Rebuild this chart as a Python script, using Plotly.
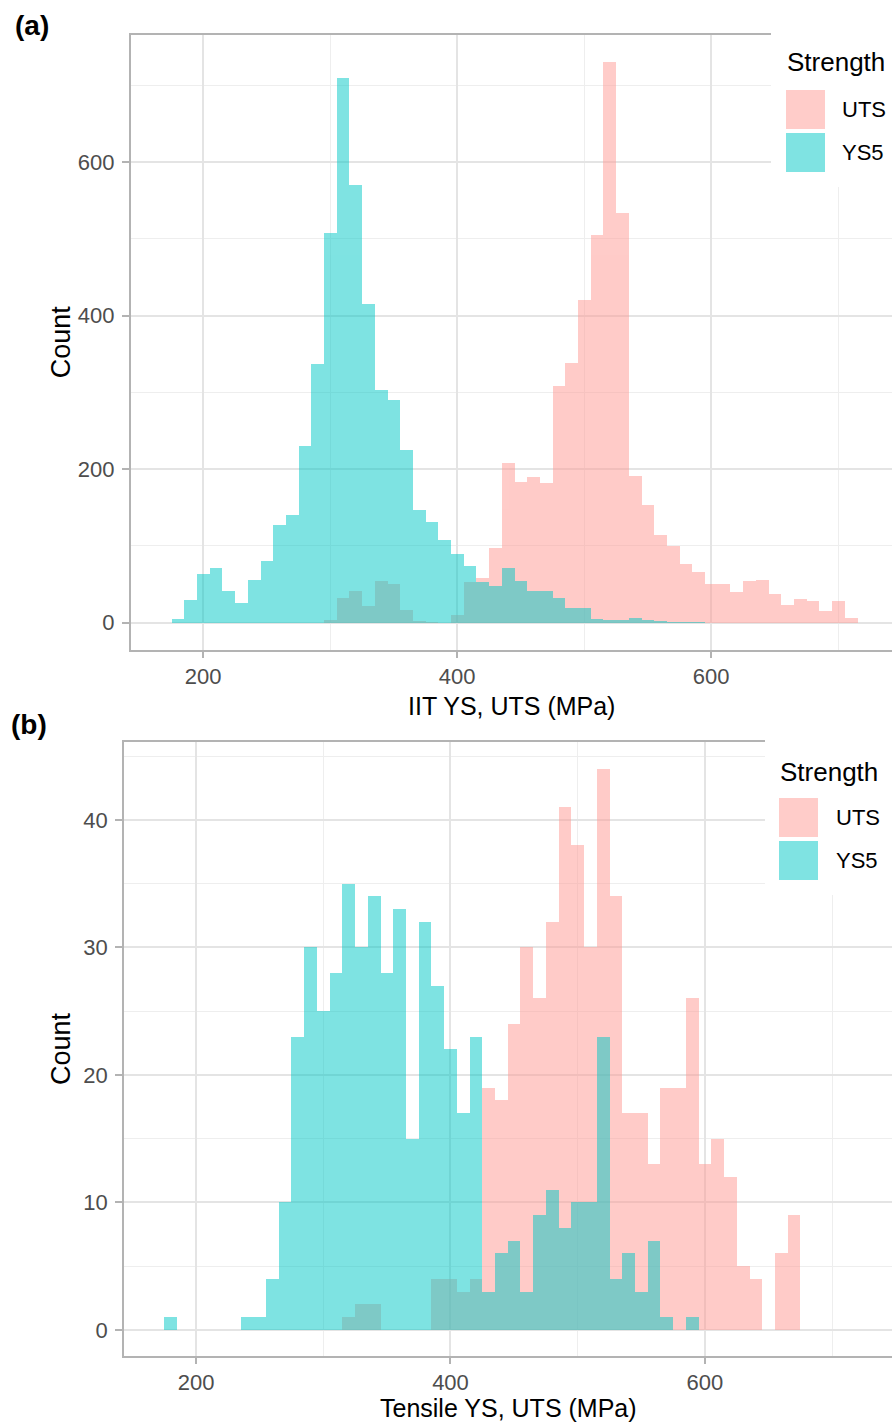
import plotly.graph_objects as go

# ---- data: histogram counts, 10 MPa bins (values are bin centres) ----
BIN_WIDTH = 10

# (a) instrumented indentation test (IIT)
iit_ys5_first = 180
iit_ys5_counts = [5, 30, 64, 72, 41, 26, 56, 81, 127, 141, 231, 337, 508, 710,
                  570, 415, 304, 291, 225, 147, 131, 108, 90, 74, 54, 48, 71,
                  55, 41, 41, 32, 20, 20, 5, 4, 4, 6, 4, 2, 1, 1, 1]
iit_uts_first = 300
iit_uts_counts = [4, 32, 42, 22, 55, 51, 17, 2, 1, 0, 10, 54, 59, 98, 208, 184,
                  190, 182, 309, 339, 421, 505, 730, 534, 192, 154, 115, 100,
                  77, 67, 51, 51, 40, 55, 56, 38, 24, 31, 28, 15, 29, 6]

# (b) tensile test
ten_ys5_first = 180
ten_ys5_counts = [1, 0, 0, 0, 0, 0, 1, 1, 4, 10, 23, 30, 25, 28, 35, 30, 34, 28,
                  33, 15, 32, 27, 22, 17, 23, 3, 6, 7, 3, 9, 11, 8, 10, 10, 23,
                  4, 6, 3, 7, 1, 0, 1]
ten_uts_first = 320
ten_uts_counts = [1, 2, 2, 0, 0, 0, 0, 4, 4, 3, 4, 19, 18, 24, 30, 26, 32, 41,
                  38, 30, 44, 34, 17, 17, 13, 19, 19, 26, 13, 15, 12, 5, 4, 0,
                  6, 9]

groups = ["UTS", "YS5"]
x_titles = ["IIT YS, UTS (MPa)", "Tensile YS, UTS (MPa)"]
x_ticks = [200, 400, 600]
x_minor = [100, 300, 500, 700]
y_ticks_a = [0, 200, 400, 600]
y_minor_a = [100, 300, 500, 700]
y_ticks_b = [0, 10, 20, 30, 40]
y_minor_b = [5, 15, 25, 35, 45]

# ---- style ----
W, H = 892, 1423
FONT = "Liberation Sans, Arial, sans-serif"
COLORS = {"UTS": "rgb(255,153,147)", "YS5": "rgb(0,200,198)"}
ALPHA = 0.5
BORDER = "#B3B3B3"
GRID = "#E4E4E4"
GRID_MINOR = "#EEEEEE"
TICK_TXT = "#4D4D4D"


def px_x(x):
    return x / W


def px_y(y):
    return 1 - y / H


def centres(first, counts):
    return [first + BIN_WIDTH * i for i in range(len(counts))]


fig = go.Figure()

series = [
    ("x", "y", "UTS", iit_uts_first, iit_uts_counts),
    ("x", "y", "YS5", iit_ys5_first, iit_ys5_counts),
    ("x2", "y2", "UTS", ten_uts_first, ten_uts_counts),
    ("x2", "y2", "YS5", ten_ys5_first, ten_ys5_counts),
]
for xa, ya, name, first, counts in series:
    fig.add_trace(go.Bar(
        x=centres(first, counts), y=counts, width=BIN_WIDTH,
        xaxis=xa, yaxis=ya, name=name, showlegend=False,
        marker=dict(color=COLORS[name], line=dict(width=0)),
        opacity=ALPHA,
    ))


def x_axis(domain, rng, anchor):
    return dict(
        domain=domain, range=rng, anchor=anchor,
        tickmode="array", tickvals=x_ticks,
        showgrid=True, gridcolor=GRID, gridwidth=1.5,
        minor=dict(tickmode="array", tickvals=x_minor, showgrid=True,
                   gridcolor=GRID_MINOR, gridwidth=1.2, ticks=""),
        showline=True, linecolor=BORDER, linewidth=1.6, mirror=True,
        ticks="outside", ticklen=6, tickwidth=1.5, tickcolor=BORDER,
        tickfont=dict(family=FONT, size=22, color=TICK_TXT),
        ticklabelstandoff=0,
        zeroline=False, fixedrange=True,
    )


def y_axis(domain, rng, anchor, ticks, minor):
    return dict(
        domain=domain, range=rng, anchor=anchor,
        tickmode="array", tickvals=ticks,
        showgrid=True, gridcolor=GRID, gridwidth=1.5,
        minor=dict(tickmode="array", tickvals=minor, showgrid=True,
                   gridcolor=GRID_MINOR, gridwidth=1.2, ticks=""),
        showline=True, linecolor=BORDER, linewidth=1.6, mirror=False,
        ticks="outside", ticklen=7, tickwidth=1.5, tickcolor=BORDER,
        tickfont=dict(family=FONT, size=22, color=TICK_TXT),
        ticklabelstandoff=3,
        zeroline=False, fixedrange=True,
    )


# panel frames in pixels: (left, top, right, bottom)
A = (130.7, 34.7, 892, 650)
B = (124, 742, 892, 1356)

fig.update_layout(
    width=W, height=H, autosize=False,
    margin=dict(l=0, r=0, t=0, b=0),
    paper_bgcolor="white", plot_bgcolor="white",
    barmode="overlay", bargap=0,
    xaxis=x_axis([px_x(A[0]), px_x(A[2])], [143.0, 742.4], "y"),
    yaxis=y_axis([px_y(A[3]), px_y(A[1])], [-35.6, 765.8], "x",
                 y_ticks_a, y_minor_a),
    xaxis2=x_axis([px_x(B[0]), px_x(B[2])], [143.4, 747.0], "y2"),
    yaxis2=y_axis([px_y(B[3]), px_y(B[1])], [-2.04, 46.1], "x2",
                  y_ticks_b, y_minor_b),
)

annotations = []
shapes = []


def text(x, y, s, size, xanchor="center", yanchor="middle", angle=0,
         bold=False, color="black"):
    annotations.append(dict(
        x=px_x(x), y=px_y(y), xref="paper", yref="paper",
        text=f"<b>{s}</b>" if bold else s, showarrow=False,
        xanchor=xanchor, yanchor=yanchor, textangle=angle,
        font=dict(family=FONT, size=size, color=color),
    ))


def rect(x0, y0, x1, y1, color, opacity=1.0):
    shapes.append(dict(
        type="rect", xref="paper", yref="paper", layer="above",
        x0=px_x(x0), x1=px_x(x1), y0=px_y(y1), y1=px_y(y0),
        fillcolor=color, opacity=opacity, line=dict(width=0),
    ))


# panel letters
text(32, 25, "(a)", 28, bold=True)
text(29, 724, "(b)", 28, bold=True)

# axis titles
text((A[0] + A[2]) / 2, 706, x_titles[0], 25)
text((B[0] + B[2]) / 2, 1424, x_titles[1], 25, yanchor="bottom")
for (l, t, r, b) in [A, B]:
    text(61, (t + b) / 2, "Count", 27, angle=-90)

# legends ("Strength" guide on a white box)
legend_boxes = [
    dict(box=(771, 28, 892, 187), title=(785, 62), sw_x=786, sw_y=90, lab_x=840),
    dict(box=(765, 738, 892, 895), title=(778, 772), sw_x=779, sw_y=798, lab_x=834),
]
SW = 39
for lg in legend_boxes:
    rect(*lg["box"], "white")
    text(lg["title"][0], lg["title"][1], "Strength", 26, xanchor="left")
    for i, g in enumerate(groups):
        y0 = lg["sw_y"] + i * (SW + 4)
        rect(lg["sw_x"], y0, lg["sw_x"] + SW, y0 + SW, COLORS[g], ALPHA)
        text(lg["lab_x"], y0 + SW / 2, g, 22, xanchor="left")

fig.update_layout(annotations=annotations, shapes=shapes)

fig.write_html("out.html")
